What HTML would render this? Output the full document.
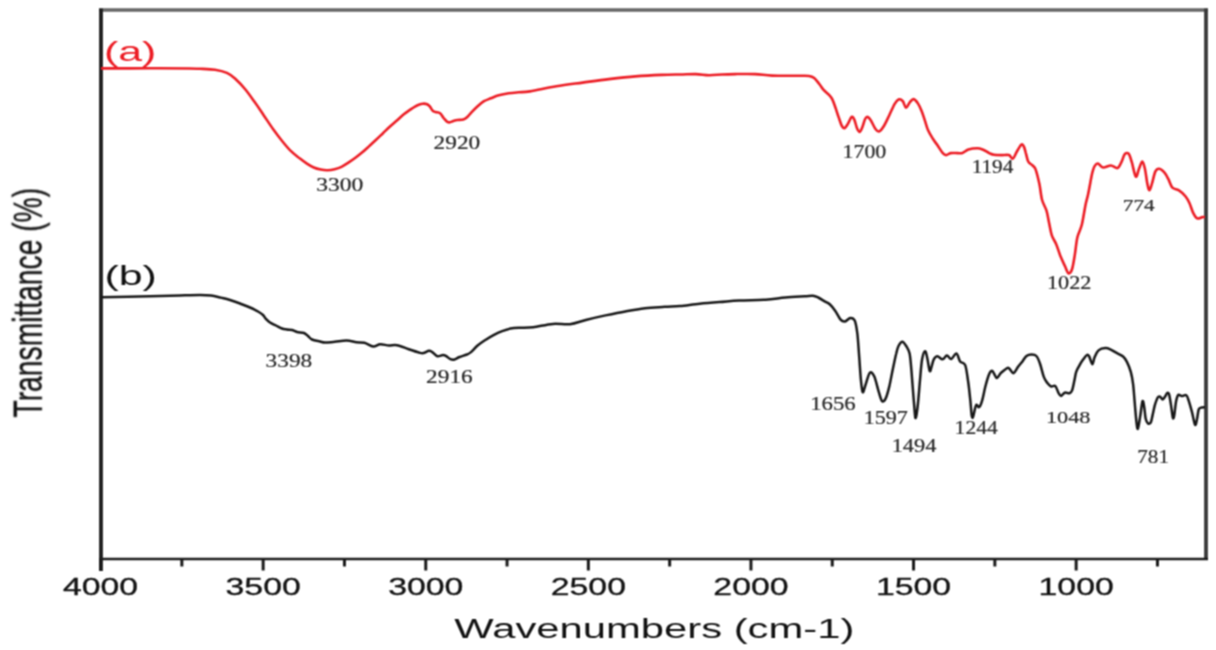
<!DOCTYPE html>
<html><head><meta charset="utf-8"><style>
html,body{margin:0;padding:0;background:#fff;width:1216px;height:650px;overflow:hidden}
svg{display:block}
#w{width:1216px;height:650px}
</style></head><body><div id="w">
<svg width="1216" height="650" viewBox="0 0 1216 650">
<defs><filter id="bl" x="0" y="0" width="1" height="1" color-interpolation-filters="sRGB"><feConvolveMatrix order="3" kernelMatrix="1 2 1 2 4 2 1 2 1" divisor="16" edgeMode="duplicate" preserveAlpha="true"/></filter></defs>
<g filter="url(#bl)">
<rect width="1216" height="650" fill="#fff"/>
<!-- frame -->
<line x1="99" y1="10" x2="1208" y2="10" stroke="#666" stroke-width="3.5"/>
<line x1="1206" y1="8.5" x2="1206" y2="560" stroke="#3a3a3a" stroke-width="3.8"/>
<line x1="99" y1="559" x2="1208" y2="559" stroke="#1a1a1a" stroke-width="2.4"/>
<line x1="101" y1="8.5" x2="101" y2="571" stroke="#1e1e1e" stroke-width="3.8"/>
<g stroke="#1a1a1a" stroke-width="3"><line x1="100.55" y1="559" x2="100.55" y2="570.5" /><line x1="181.85" y1="559" x2="181.85" y2="566.5" /><line x1="263.15" y1="559" x2="263.15" y2="570.5" /><line x1="344.45" y1="559" x2="344.45" y2="566.5" /><line x1="425.75" y1="559" x2="425.75" y2="570.5" /><line x1="507.05" y1="559" x2="507.05" y2="566.5" /><line x1="588.35" y1="559" x2="588.35" y2="570.5" /><line x1="669.65" y1="559" x2="669.65" y2="566.5" /><line x1="750.95" y1="559" x2="750.95" y2="570.5" /><line x1="832.25" y1="559" x2="832.25" y2="566.5" /><line x1="913.55" y1="559" x2="913.55" y2="570.5" /><line x1="994.85" y1="559" x2="994.85" y2="566.5" /><line x1="1076.15" y1="559" x2="1076.15" y2="570.5" /><line x1="1157.45" y1="559" x2="1157.45" y2="566.5" /></g>
<g font-family="Liberation Sans" font-size="23.5" fill="#111" stroke="#111" stroke-width="0.3" text-anchor="middle"><text transform="translate(100.55,594.5) scale(1.440,1)">4000</text><text transform="translate(263.15,594.5) scale(1.440,1)">3500</text><text transform="translate(425.75,594.5) scale(1.440,1)">3000</text><text transform="translate(588.35,594.5) scale(1.440,1)">2500</text><text transform="translate(750.95,594.5) scale(1.440,1)">2000</text><text transform="translate(913.55,594.5) scale(1.440,1)">1500</text><text transform="translate(1076.15,594.5) scale(1.440,1)">1000</text></g>
<text transform="translate(654.3,638.3) scale(1.482,1)" font-family="Liberation Sans" font-size="28.2" fill="#111" text-anchor="middle">Wavenumbers (cm-1)</text>
<text transform="translate(41.5,417.5) scale(1.43,1) rotate(-90)" font-family="Liberation Sans" font-size="28.25" fill="#111" stroke="#111" stroke-width="0.25">Transmittance (%)</text>
<text transform="translate(130.1,60.6) scale(1.56,1)" font-family="Liberation Sans" font-size="27.5" fill="#ec1c24" text-anchor="middle">(a)</text>
<text transform="translate(130.6,285.2) scale(1.59,1)" font-family="Liberation Sans" font-size="27" fill="#111" text-anchor="middle">(b)</text>
<path d="M101.0,68.4 C109.2,68.4 135.2,68.3 150.0,68.3 C164.8,68.3 181.7,68.4 190.0,68.5 C198.3,68.6 195.8,68.6 200.0,68.8 C204.2,69.0 210.5,69.1 215.0,69.8 C219.5,70.5 223.6,71.5 226.9,72.9 C230.2,74.4 231.9,75.7 235.0,78.5 C238.1,81.3 242.1,85.5 245.4,89.5 C248.7,93.5 251.9,98.2 255.0,102.5 C258.1,106.8 260.8,111.0 263.8,115.4 C266.8,119.8 269.9,124.7 273.0,129.0 C276.1,133.3 279.3,137.5 282.3,141.2 C285.3,144.9 288.1,148.3 291.0,151.2 C293.9,154.1 297.4,156.5 300.0,158.6 C302.6,160.7 304.6,162.1 306.9,163.6 C309.2,165.1 311.5,166.5 313.8,167.5 C316.1,168.5 318.5,169.1 320.8,169.6 C323.1,170.1 325.4,170.4 327.7,170.3 C330.0,170.2 332.3,169.8 334.6,169.2 C336.9,168.6 339.2,167.9 341.5,166.8 C343.8,165.7 346.1,164.2 348.4,162.7 C350.7,161.2 353.1,159.5 355.4,157.8 C357.7,156.1 360.0,154.2 362.3,152.3 C364.6,150.4 366.9,148.2 369.2,146.1 C371.5,144.0 373.8,142.0 376.1,139.8 C378.4,137.7 380.7,135.4 383.0,133.2 C385.3,131.0 387.7,128.6 390.0,126.5 C392.3,124.4 394.6,122.5 396.9,120.5 C399.2,118.5 401.5,116.1 403.8,114.3 C406.1,112.5 408.9,110.7 410.7,109.4 C412.5,108.2 413.2,107.6 414.6,106.8 C416.0,106.0 417.4,105.2 418.8,104.7 C420.2,104.2 421.5,103.8 422.9,103.7 C424.3,103.6 426.0,103.8 427.1,104.3 C428.2,104.8 428.9,105.4 429.8,106.4 C430.7,107.5 431.7,109.7 432.6,110.6 C433.5,111.5 434.1,111.6 435.4,112.0 C436.6,112.4 438.7,112.2 440.1,113.2 C441.5,114.2 442.5,116.6 443.6,118.0 C444.8,119.4 446.0,120.9 447.0,121.6 C448.0,122.3 448.4,122.5 449.5,122.4 C450.6,122.3 452.1,121.4 453.4,121.0 C454.7,120.6 455.8,120.2 457.4,120.0 C459.0,119.8 461.6,120.0 463.3,119.5 C465.0,119.0 466.0,118.2 467.3,117.0 C468.6,115.8 469.6,114.3 471.2,112.6 C472.8,110.9 475.0,108.6 477.1,106.7 C479.2,104.8 481.7,102.6 484.0,101.2 C486.3,99.8 488.4,99.3 490.9,98.3 C493.4,97.3 495.8,96.1 498.8,95.3 C501.8,94.5 505.4,93.8 508.7,93.3 C512.0,92.8 515.1,92.6 518.6,92.3 C522.1,92.0 523.7,92.4 530.0,91.4 C536.3,90.4 547.5,87.8 556.3,86.3 C565.1,84.8 573.8,83.8 582.6,82.6 C591.4,81.4 600.1,80.1 608.9,79.1 C617.7,78.1 626.5,77.1 635.3,76.4 C644.1,75.7 654.1,75.2 661.6,74.9 C669.1,74.6 674.3,74.6 680.0,74.5 C685.7,74.4 691.0,74.0 695.8,74.1 C700.6,74.2 704.5,75.1 708.9,75.2 C713.3,75.3 717.6,74.7 722.0,74.5 C726.4,74.3 729.8,74.2 735.3,74.1 C740.8,74.0 748.9,73.8 755.0,74.1 C761.1,74.3 764.9,75.3 772.1,75.6 C779.3,75.9 792.3,75.7 798.4,75.8 C804.5,75.9 806.3,75.6 808.9,76.0 C811.5,76.4 812.5,76.7 814.2,78.0 C815.9,79.3 817.7,82.0 819.3,84.0 C820.9,86.0 822.0,88.1 823.6,89.9 C825.2,91.7 827.6,93.3 829.0,94.8 C830.4,96.3 831.1,96.9 832.2,99.1 C833.3,101.2 834.4,104.7 835.5,107.7 C836.6,110.8 837.6,114.4 838.7,117.4 C839.8,120.5 840.9,124.2 841.9,126.0 C842.9,127.8 843.6,128.5 844.6,128.2 C845.6,127.8 846.7,125.8 847.9,123.9 C849.1,122.0 850.5,117.6 851.6,116.9 C852.7,116.2 853.4,117.7 854.3,119.6 C855.2,121.5 856.1,126.1 857.0,128.2 C857.9,130.2 858.8,132.1 859.7,131.9 C860.6,131.7 861.5,129.2 862.4,127.1 C863.3,124.9 864.2,120.7 865.1,119.0 C866.0,117.3 866.8,116.6 867.8,116.9 C868.8,117.2 869.8,118.6 871.0,120.6 C872.2,122.6 873.9,126.9 875.3,128.7 C876.6,130.5 877.7,131.8 879.1,131.4 C880.5,131.0 882.2,128.7 883.9,126.0 C885.6,123.3 887.5,118.9 889.3,115.2 C891.1,111.5 893.1,106.6 894.7,103.9 C896.3,101.2 897.6,99.8 899.0,99.3 C900.4,98.8 901.6,99.8 902.8,101.2 C904.0,102.6 904.8,107.5 906.0,107.7 C907.2,107.9 908.5,103.7 909.8,102.3 C911.1,100.9 912.2,98.9 913.6,99.1 C915.0,99.3 916.6,101.4 917.9,103.4 C919.2,105.4 920.4,108.0 921.6,110.9 C922.8,113.8 923.8,117.4 924.9,120.6 C926.0,123.8 926.8,127.3 928.1,130.3 C929.4,133.3 931.3,136.2 932.9,138.8 C934.5,141.4 936.1,143.3 937.8,145.7 C939.4,148.1 941.4,151.5 942.8,153.1 C944.2,154.7 944.9,155.1 946.2,155.1 C947.5,155.1 948.8,153.4 950.7,153.1 C952.6,152.8 955.6,153.1 957.6,153.1 C959.6,153.1 960.7,153.5 962.5,152.9 C964.3,152.3 965.9,150.3 968.4,149.5 C970.9,148.7 974.8,148.2 977.3,148.2 C979.8,148.2 981.2,148.9 983.2,149.7 C985.2,150.5 987.4,152.2 989.2,153.1 C991.0,153.9 992.0,154.5 994.1,154.8 C996.2,155.1 999.5,155.1 1002.0,155.1 C1004.5,155.1 1007.1,154.5 1008.9,155.1 C1010.7,155.7 1011.6,159.2 1012.9,158.6 C1014.2,158.0 1015.4,154.0 1016.8,151.7 C1018.2,149.4 1020.1,145.6 1021.2,144.7 C1022.4,143.8 1023.0,144.9 1023.7,146.2 C1024.5,147.5 1025.0,150.0 1025.7,152.6 C1026.5,155.2 1027.1,159.3 1028.2,161.5 C1029.3,163.7 1031.4,164.2 1032.6,165.5 C1033.8,166.8 1034.5,166.3 1035.6,169.4 C1036.7,172.5 1038.3,179.0 1039.4,184.1 C1040.5,189.2 1040.9,195.6 1042.1,200.0 C1043.3,204.4 1045.3,206.9 1046.5,210.7 C1047.7,214.5 1048.2,218.9 1049.1,223.0 C1050.0,227.1 1050.6,231.9 1051.8,235.4 C1053.0,238.9 1054.7,240.7 1056.2,244.2 C1057.7,247.7 1059.1,252.9 1060.6,256.6 C1062.1,260.3 1063.7,263.5 1065.0,266.3 C1066.3,269.1 1067.4,272.9 1068.6,273.4 C1069.8,273.8 1071.1,272.1 1072.1,269.0 C1073.1,265.9 1073.9,260.2 1074.8,254.9 C1075.7,249.6 1076.2,242.2 1077.4,237.2 C1078.6,232.2 1080.5,230.1 1081.8,224.8 C1083.1,219.5 1084.4,210.4 1085.4,205.4 C1086.4,200.4 1087.1,198.8 1088.0,194.7 C1088.9,190.6 1090.0,184.4 1090.7,180.6 C1091.5,176.8 1091.8,174.4 1092.5,172.0 C1093.2,169.6 1093.7,167.5 1094.6,166.1 C1095.5,164.7 1096.4,163.3 1097.8,163.5 C1099.2,163.7 1100.9,167.2 1103.1,167.5 C1105.3,167.8 1108.5,165.4 1110.9,165.5 C1113.3,165.6 1115.8,168.7 1117.5,168.1 C1119.2,167.5 1120.2,164.5 1121.4,162.2 C1122.6,159.9 1123.4,155.8 1124.6,154.4 C1125.8,153.0 1127.4,152.4 1128.6,153.7 C1129.8,155.0 1130.6,158.4 1131.8,162.2 C1133.0,166.0 1134.6,175.5 1135.8,176.6 C1137.0,177.7 1137.9,171.3 1139.0,168.8 C1140.1,166.3 1141.3,161.6 1142.3,161.6 C1143.3,161.6 1144.0,165.0 1144.9,168.8 C1145.8,172.6 1146.7,180.8 1147.5,184.4 C1148.3,188.0 1148.7,190.5 1149.5,190.3 C1150.3,190.1 1151.1,186.2 1152.1,183.1 C1153.1,179.9 1154.2,173.8 1155.4,171.4 C1156.6,169.0 1157.8,168.6 1159.3,168.8 C1160.8,169.0 1163.0,171.0 1164.5,172.7 C1166.0,174.4 1167.1,176.7 1168.4,179.2 C1169.7,181.7 1170.7,185.8 1172.4,187.7 C1174.2,189.5 1176.7,188.9 1178.9,190.3 C1181.1,191.7 1183.7,194.1 1185.4,196.2 C1187.1,198.3 1188.0,199.9 1189.3,202.7 C1190.6,205.5 1192.0,210.6 1193.3,213.2 C1194.6,215.8 1195.7,217.8 1197.2,218.4 C1198.7,219.1 1201.1,217.3 1202.4,217.1 C1203.7,216.9 1204.6,217.1 1205.0,217.1" fill="none" stroke="#ec1c24" stroke-width="2.6" stroke-linejoin="round"/>
<path d="M101.0,297.2 C109.2,297.0 136.8,296.5 150.0,296.2 C163.2,295.9 171.7,295.6 180.0,295.4 C188.3,295.2 194.8,295.0 200.0,295.0 C205.2,295.0 207.5,295.1 211.0,295.5 C214.5,295.9 217.8,296.9 221.0,297.6 C224.2,298.4 226.8,299.0 230.0,300.0 C233.2,301.0 236.7,302.2 240.0,303.5 C243.3,304.8 247.0,306.2 250.0,307.5 C253.0,308.8 255.8,310.2 258.0,311.5 C260.2,312.8 261.7,313.8 263.0,315.0 C264.3,316.2 264.8,317.8 266.0,319.0 C267.2,320.2 268.3,321.4 270.0,322.5 C271.7,323.6 274.0,324.5 276.0,325.5 C278.0,326.5 280.2,327.8 282.0,328.5 C283.8,329.2 285.3,329.2 287.0,329.5 C288.7,329.8 290.3,329.6 292.0,330.0 C293.7,330.4 295.0,331.5 297.0,332.0 C299.0,332.5 302.2,332.3 304.0,333.0 C305.8,333.7 306.7,334.9 308.0,336.0 C309.3,337.1 310.0,338.6 312.0,339.5 C314.0,340.4 317.9,341.0 320.0,341.5 C322.1,342.0 322.4,342.6 324.9,342.6 C327.3,342.7 331.1,342.1 334.7,341.8 C338.3,341.5 343.0,340.5 346.6,340.6 C350.2,340.7 353.5,341.9 356.5,342.3 C359.5,342.7 361.6,342.1 364.4,342.8 C367.2,343.5 370.6,346.2 373.2,346.5 C375.8,346.8 377.6,344.5 380.2,344.3 C382.8,344.1 386.2,345.4 389.0,345.5 C391.8,345.6 393.6,344.6 396.9,345.2 C400.2,345.8 404.9,347.9 408.8,349.2 C412.7,350.5 417.4,352.3 420.0,352.9 C422.6,353.5 422.6,353.2 424.1,352.9 C425.6,352.5 427.6,350.9 429.0,350.8 C430.4,350.7 430.9,351.2 432.3,352.1 C433.7,353.0 435.5,355.7 437.3,356.2 C439.1,356.7 441.5,355.0 443.0,355.0 C444.5,355.0 445.1,355.5 446.3,356.2 C447.5,356.9 449.0,358.6 450.4,359.1 C451.8,359.7 453.0,359.9 454.5,359.5 C456.0,359.1 457.4,357.8 459.5,357.0 C461.6,356.2 465.0,355.3 466.9,354.5 C468.8,353.7 469.2,353.6 471.0,352.1 C472.8,350.6 475.1,347.6 477.6,345.5 C480.1,343.4 483.1,341.5 485.8,339.7 C488.5,337.9 491.3,336.2 494.0,334.8 C496.7,333.4 499.4,332.1 502.2,331.1 C504.9,330.1 507.5,329.2 510.5,328.6 C513.5,328.1 516.2,328.0 520.0,327.8 C523.8,327.6 527.7,327.9 533.2,327.2 C538.7,326.5 546.8,324.4 552.9,323.9 C559.0,323.4 564.5,324.8 570.0,324.2 C575.5,323.6 579.9,321.5 585.8,320.0 C591.7,318.5 598.9,316.8 605.5,315.4 C612.1,314.0 618.7,312.6 625.3,311.4 C631.9,310.2 638.4,309.0 645.0,308.2 C651.6,307.4 658.9,307.2 664.7,306.8 C670.5,306.4 674.2,306.5 680.0,306.0 C685.8,305.5 693.1,304.3 699.7,303.7 C706.3,303.1 712.9,302.6 719.5,302.1 C726.1,301.6 731.5,300.9 739.2,300.5 C746.9,300.1 757.8,300.2 765.5,299.7 C773.2,299.2 778.7,298.1 785.3,297.5 C791.9,296.9 800.4,296.5 805.0,296.2 C809.6,295.9 810.7,295.6 812.9,295.8 C815.1,296.0 816.2,296.6 818.2,297.5 C820.2,298.4 822.7,300.2 824.7,301.4 C826.7,302.6 828.2,302.9 830.0,304.5 C831.8,306.1 833.5,308.4 835.3,310.9 C837.1,313.4 839.0,317.9 840.6,319.7 C842.2,321.5 843.4,321.8 845.0,321.5 C846.6,321.2 848.7,318.1 850.3,318.0 C851.9,317.9 853.5,318.0 854.7,320.6 C855.9,323.2 856.6,327.8 857.4,333.9 C858.1,339.9 858.6,349.2 859.2,356.9 C859.8,364.6 860.3,374.0 860.9,379.9 C861.5,385.8 862.0,391.3 862.7,392.2 C863.5,393.1 864.2,388.4 865.4,385.2 C866.6,382.0 868.3,374.3 869.8,372.8 C871.3,371.3 872.7,373.2 874.2,376.3 C875.7,379.4 877.3,387.2 878.6,391.3 C879.9,395.4 880.9,399.9 882.1,401.1 C883.3,402.3 884.5,400.8 885.7,398.4 C886.9,396.0 888.0,391.8 889.2,386.9 C890.4,382.0 891.6,374.8 892.8,369.2 C894.0,363.6 895.3,357.2 896.3,353.3 C897.2,349.4 897.5,347.9 898.5,346.0 C899.5,344.1 900.9,341.6 902.3,341.7 C903.7,341.8 905.5,344.9 906.7,346.8 C907.9,348.8 908.9,350.1 909.6,353.4 C910.3,356.7 910.6,361.2 911.1,366.6 C911.6,372.0 912.0,378.1 912.6,385.6 C913.2,393.2 914.2,406.5 914.7,411.9 C915.2,417.3 915.3,418.8 915.8,417.8 C916.3,416.8 917.0,412.1 917.7,406.0 C918.4,399.9 919.2,389.0 919.9,381.2 C920.6,373.4 921.2,364.3 922.1,359.3 C923.0,354.3 924.1,351.4 925.0,351.2 C925.9,350.9 926.4,354.5 927.2,357.8 C928.0,361.1 929.0,369.5 929.7,371.0 C930.4,372.5 930.9,368.6 931.6,366.6 C932.3,364.7 932.8,361.0 933.8,359.3 C934.8,357.6 935.9,356.3 937.4,356.3 C938.9,356.3 940.9,359.4 942.5,359.3 C944.1,359.2 945.4,355.7 946.9,355.6 C948.4,355.6 949.7,359.4 951.3,359.0 C952.9,358.6 954.9,353.0 956.4,353.4 C957.9,353.8 958.6,359.4 960.1,361.4 C961.6,363.3 963.9,361.8 965.2,365.1 C966.5,368.4 967.2,375.4 968.1,381.2 C969.0,387.0 969.7,394.4 970.3,400.2 C970.9,406.0 971.3,413.3 971.8,416.0 C972.3,418.7 972.5,418.3 973.2,416.5 C973.9,414.7 975.1,406.8 976.1,405.2 C977.1,403.6 978.2,407.9 979.2,407.1 C980.2,406.3 981.2,403.7 982.2,400.3 C983.2,396.9 984.2,391.1 985.3,386.8 C986.4,382.5 987.9,377.2 989.0,374.5 C990.1,371.8 991.2,370.8 992.1,370.8 C993.0,370.8 993.7,373.3 994.5,374.5 C995.3,375.7 996.0,378.3 997.0,378.1 C998.0,377.9 999.5,374.5 1000.7,373.2 C1001.9,371.9 1003.2,371.0 1004.4,370.1 C1005.6,369.2 1007.1,367.7 1008.1,367.7 C1009.1,367.7 1009.6,369.2 1010.5,370.1 C1011.4,371.0 1012.4,373.7 1013.6,373.2 C1014.8,372.7 1016.4,369.2 1017.9,367.1 C1019.4,365.1 1021.4,362.8 1022.8,360.9 C1024.2,359.0 1025.1,357.1 1026.5,356.0 C1027.9,354.9 1029.8,354.5 1031.4,354.5 C1033.1,354.5 1035.0,354.4 1036.4,356.0 C1037.9,357.6 1038.9,360.5 1040.1,364.0 C1041.3,367.5 1042.6,373.7 1043.8,376.9 C1045.0,380.1 1046.2,381.5 1047.4,383.1 C1048.6,384.7 1049.8,386.0 1051.1,386.5 C1052.4,387.0 1054.2,385.0 1055.4,386.1 C1056.6,387.2 1057.6,391.2 1058.5,392.9 C1059.4,394.5 1060.0,396.0 1061.0,396.0 C1062.0,396.0 1063.3,393.2 1064.7,392.7 C1066.1,392.2 1068.4,393.6 1069.6,393.2 C1070.8,392.8 1071.3,392.6 1072.1,390.4 C1072.9,388.2 1073.8,383.1 1074.5,380.0 C1075.2,376.9 1075.4,374.3 1076.2,371.9 C1077.0,369.5 1078.1,367.9 1079.2,365.8 C1080.3,363.8 1081.8,361.4 1083.1,359.6 C1084.4,357.8 1085.9,355.5 1086.9,355.0 C1087.9,354.5 1088.3,355.0 1089.2,356.5 C1090.1,358.0 1091.4,364.1 1092.3,364.2 C1093.2,364.3 1093.6,359.6 1094.6,357.3 C1095.6,355.0 1096.7,351.9 1098.5,350.4 C1100.3,348.9 1103.4,348.2 1105.4,348.1 C1107.5,348.0 1109.0,348.8 1110.8,349.6 C1112.6,350.4 1114.2,351.6 1116.2,352.7 C1118.2,353.8 1121.3,355.0 1123.1,356.5 C1124.9,358.0 1125.6,359.3 1126.9,361.9 C1128.2,364.5 1129.8,368.2 1130.8,371.9 C1131.8,375.6 1132.5,379.3 1133.1,384.2 C1133.7,389.1 1134.1,395.3 1134.6,401.2 C1135.1,407.1 1135.7,415.0 1136.2,419.6 C1136.7,424.2 1137.2,429.3 1137.8,428.9 C1138.4,428.4 1139.3,421.5 1140.1,416.9 C1140.9,412.3 1141.8,402.7 1142.5,401.2 C1143.2,399.7 1143.8,404.8 1144.3,407.7 C1144.8,410.6 1145.1,416.1 1145.7,418.7 C1146.3,421.3 1147.2,422.8 1148.0,423.4 C1148.8,424.0 1150.0,423.8 1150.8,422.4 C1151.6,421.0 1151.9,418.0 1152.6,415.1 C1153.3,412.2 1154.1,407.8 1154.9,404.9 C1155.8,402.0 1156.9,398.9 1157.7,397.5 C1158.5,396.1 1159.2,396.3 1160.0,396.6 C1160.8,396.9 1161.9,399.4 1162.7,399.4 C1163.5,399.4 1164.3,397.7 1165.1,396.6 C1165.9,395.5 1166.7,393.2 1167.4,392.9 C1168.1,392.6 1168.6,392.6 1169.2,394.8 C1169.8,397.0 1170.5,402.0 1171.1,405.8 C1171.7,409.6 1172.4,416.2 1172.9,417.8 C1173.4,419.4 1173.8,417.9 1174.3,415.1 C1174.8,412.3 1175.4,404.6 1176.1,401.2 C1176.8,397.8 1177.5,395.6 1178.4,394.8 C1179.3,394.0 1180.4,396.0 1181.7,396.1 C1183.0,396.2 1185.2,394.5 1186.3,395.2 C1187.4,395.9 1187.7,397.6 1188.6,400.3 C1189.5,403.0 1190.7,407.3 1191.8,411.4 C1192.9,415.5 1194.2,423.3 1195.0,424.7 C1195.8,426.1 1196.3,422.2 1196.9,419.7 C1197.5,417.2 1198.0,411.5 1198.7,409.5 C1199.4,407.5 1200.0,408.1 1201.0,407.7 C1202.0,407.3 1204.3,407.3 1205.0,407.2" fill="none" stroke="#161616" stroke-width="2.5" stroke-linejoin="round"/>
<g font-family="Liberation Serif" fill="#262626" stroke="#262626" stroke-width="0.2" text-anchor="middle"><text transform="translate(339.75,191.00) scale(1.236,1)" font-size="19.10">3300</text><text transform="translate(456.88,148.75) scale(1.247,1)" font-size="18.66">2920</text><text transform="translate(864.38,157.50) scale(1.176,1)" font-size="18.66">1700</text><text transform="translate(992.50,173.25) scale(1.140,1)" font-size="18.66">1194</text><text transform="translate(1069.15,289.40) scale(1.200,1)" font-size="18.51">1022</text><text transform="translate(1138.75,211.00) scale(1.269,1)" font-size="16.72">774</text><text transform="translate(288.88,367.00) scale(1.177,1)" font-size="19.78">3398</text><text transform="translate(449.38,382.50) scale(1.247,1)" font-size="18.66">2916</text><text transform="translate(832.90,409.60) scale(1.156,1)" font-size="19.70">1656</text><text transform="translate(885.80,424.00) scale(1.163,1)" font-size="19.03">1597</text><text transform="translate(914.05,451.50) scale(1.219,1)" font-size="18.36">1494</text><text transform="translate(976.20,433.50) scale(1.139,1)" font-size="18.96">1244</text><text transform="translate(1068.15,423.40) scale(1.276,1)" font-size="17.46">1048</text><text transform="translate(1153.15,462.80) scale(1.076,1)" font-size="19.70">781</text></g>
</g>
</svg></div>
</body></html>
